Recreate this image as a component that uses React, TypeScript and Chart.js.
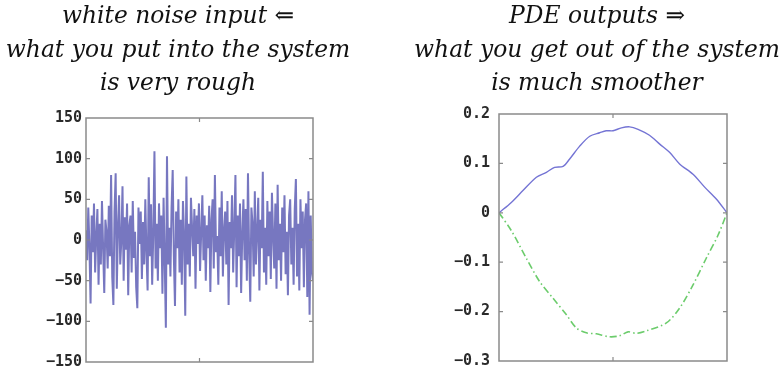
import React, { useEffect, useRef } from "react";
import { Chart, registerables } from "chart.js";

Chart.register(...registerables);

// ---------- data ----------
const leftTitle = ["white noise input ⇐", "what you put into the system", "is very rough"];
const rightTitle = ["PDE outputs ⇒", "what you get out of the system", "is much smoother"];

const leftYTicks = [-150, -100, -50, 0, 50, 100, 150];
const rightYTicks = [-0.3, -0.2, -0.1, 0, 0.1, 0.2];

const noiseValues = [
  12, -25, 40, -8, -78, 30, -15, 45, -40, 5, 38, -55, 20, -30, 48, -10, -65, 25, 10, -35,
  42, -20, 80, -45, -80, 35, 82, -60, 15, 55, -30, 0, 66, -50, 28, -12, 45, -68, 18, 30,
  -40, 48, -22, 10, -58, -84, 40, -5, 35, -48, 22, -30, 50, -15, -62, 77, -20, 44, -55, 8,
  109, -35, 20, -50, 45, -10, 30, -66, 52, -25, -108, 103, -30, 15, -45, 40, 86, -20, -81, 35,
  -10, 50, -40, 25, -55, 48, 5, -93, 78, -30, 20, -45, 52, 15, -20, 38, -60, 30, -5, 45,
  -38, 10, 55, -25, 30, -50, 18, -10, 42, -64, 25, 50, -35, 80, -15, 5, -55, 40, -20, 60,
  -45, 12, 35, -30, 48, -80, 22, -10, 55, -40, 15, 80, -58, 30, -20, 45, -65, 8, 50, -25,
  38, -50, 82, -15, -76, 40, 20, -45, 60, -30, 10, 52, -62, 25, -10, 84, -40, 15, -55, 48,
  -20, 35, -48, 58, 5, -35, 45, -60, 68, -25, 20, -50, 40, -15, 55, -42, 10, -68, 30, 50,
  -30, 15, -55, 38, 75, -45, 20, -62, 50, -10, 35, -58, 25, 45, -70, 60, -92, 30, -40, -50,
];

const blueX = [0, 0.054, 0.105, 0.164, 0.208, 0.244, 0.281, 0.31, 0.354, 0.398, 0.442, 0.47, 0.5, 0.537, 0.573, 0.61, 0.66, 0.705, 0.749, 0.792, 0.851, 0.902, 0.953, 1];
const blueY = [0, 0.021, 0.045, 0.072, 0.082, 0.092, 0.094, 0.109, 0.135, 0.155, 0.162, 0.166, 0.166, 0.172, 0.174, 0.169, 0.157, 0.139, 0.122, 0.099, 0.078, 0.052, 0.028, 0];

const greenX = [0, 0.054, 0.12, 0.178, 0.237, 0.295, 0.339, 0.383, 0.427, 0.485, 0.529, 0.566, 0.602, 0.646, 0.734, 0.792, 0.851, 0.909, 0.96, 1];
const greenY = [0, -0.036, -0.092, -0.139, -0.173, -0.206, -0.233, -0.243, -0.245, -0.251, -0.249, -0.241, -0.244, -0.239, -0.223, -0.193, -0.146, -0.092, -0.046, 0];

// ---------- plugins ----------
const framePlugin = {
  id: "frame",
  afterDraw(chart: any) {
    const { ctx, chartArea } = chart;
    const { left, right, top, bottom } = chartArea;
    ctx.save();
    ctx.strokeStyle = "#8a8a8a";
    ctx.lineWidth = 1.5;
    ctx.strokeRect(left, top, right - left, bottom - top);
    const ys = chart.scales.y;
    const xs = chart.scales.x;
    const t = 4;
    ctx.lineWidth = 1.2;
    ctx.beginPath();
    ys.ticks.forEach((tk: any) => {
      const py = ys.getPixelForValue(tk.value);
      if (py <= top + 1 || py >= bottom - 1) return;
      ctx.moveTo(left, py);
      ctx.lineTo(left + t, py);
      ctx.moveTo(right, py);
      ctx.lineTo(right - t, py);
    });
    xs.ticks.forEach((tk: any) => {
      const px = xs.getPixelForValue(tk.value);
      if (px <= left + 1 || px >= right - 1) return;
      ctx.moveTo(px, top);
      ctx.lineTo(px, top + t);
      ctx.moveTo(px, bottom);
      ctx.lineTo(px, bottom - t);
    });
    ctx.stroke();
    ctx.restore();
  },
};

const headingPlugin = {
  id: "heading",
  afterDraw(chart: any, _args: any, opts: any) {
    const { ctx } = chart;
    ctx.save();
    ctx.fillStyle = "#111";
    ctx.font = "italic 23.4px 'DejaVu Serif'";
    ctx.textAlign = "center";
    ctx.textBaseline = "middle";
    (opts.lines as string[]).forEach((line, i) => {
      ctx.fillText(line, opts.centerX, opts.firstY + i * opts.gap);
    });
    ctx.restore();
  },
};

function makeOptions(opts: {
  title: string[];
  titleX: number;
  yMin: number;
  yMax: number;
  yTicks: number[];
  xMin: number;
  xMax: number;
  xStep: number;
  padT: number;
  padR: number;
  padB: number;
  axisW: number;
  tickPad: number;
}) {
  return {
    responsive: false,
    animation: false as const,
    layout: { padding: { left: 0, right: opts.padR, top: opts.padT, bottom: opts.padB } },
    plugins: {
      legend: { display: false },
      tooltip: { enabled: false },
      title: { display: false },
      heading: { lines: opts.title, centerX: opts.titleX, firstY: 17, gap: 33.5 },
    },
    scales: {
      x: {
        type: "linear" as const,
        display: false,
        min: opts.xMin,
        max: opts.xMax,
        ticks: { stepSize: opts.xStep },
      },
      y: {
        type: "linear" as const,
        min: opts.yMin,
        max: opts.yMax,
        grid: { display: false, drawTicks: false },
        border: { display: false },
        afterFit(scale: any) {
          scale.width = opts.axisW;
          scale.paddingTop = 0;
          scale.paddingBottom = 0;
        },
        afterBuildTicks(scale: any) {
          scale.ticks = opts.yTicks.map((v) => ({ value: v }));
        },
        ticks: {
          padding: opts.tickPad,
          color: "#2a2a2a",
          font: { family: "'DejaVu Sans Mono'", size: 15, weight: "bold" as const },
          callback: (v: any) => {
            const n = Number(v);
            const s = Math.abs(n) < 1e-9 ? "0" : String(Math.round(n * 1000) / 1000);
            return s.replace("-", "−");
          },
        },
      },
    },
  };
}

function LeftChart() {
  const ref = useRef<HTMLCanvasElement>(null);
  useEffect(() => {
    const chart = new Chart(ref.current!, {
      type: "line",
      data: {
        datasets: [
          {
            data: noiseValues.map((v, i) => ({ x: i, y: v })),
            borderColor: "rgba(28,28,150,0.6)",
            borderWidth: 2,
            pointRadius: 0,
            tension: 0,
          },
        ],
      },
      options: makeOptions({
        title: leftTitle,
        titleX: 178,
        yMin: -150,
        yMax: 150,
        yTicks: leftYTicks,
        xMin: 0,
        xMax: noiseValues.length - 1,
        xStep: (noiseValues.length - 1) / 2,
        padT: 118,
        padR: 77,
        padB: 10,
        axisW: 86,
        tickPad: 4,
      }) as any,
      plugins: [framePlugin, headingPlugin],
    });
    return () => chart.destroy();
  }, []);
  return <canvas ref={ref} width={390} height={372} style={{ position: "absolute", left: 0, top: 0 }} />;
}

function RightChart() {
  const ref = useRef<HTMLCanvasElement>(null);
  useEffect(() => {
    const chart = new Chart(ref.current!, {
      type: "line",
      data: {
        datasets: [
          {
            data: blueX.map((x, i) => ({ x, y: blueY[i] })),
            borderColor: "#7474d4",
            borderWidth: 1.4,
            pointRadius: 0,
            tension: 0.3,
          },
          {
            data: greenX.map((x, i) => ({ x, y: greenY[i] })),
            borderColor: "#6ccc6c",
            borderWidth: 1.6,
            borderDash: [7, 3, 1.5, 3],
            pointRadius: 0,
            tension: 0.3,
          },
        ],
      },
      options: makeOptions({
        title: rightTitle,
        titleX: 207,
        yMin: -0.3,
        yMax: 0.2,
        yTicks: rightYTicks,
        xMin: 0,
        xMax: 1,
        xStep: 0.5,
        padT: 114,
        padR: 53,
        padB: 11,
        axisW: 109,
        tickPad: 9,
      }) as any,
      plugins: [framePlugin, headingPlugin],
    });
    return () => chart.destroy();
  }, []);
  return <canvas ref={ref} width={390} height={372} style={{ position: "absolute", left: 390, top: 0 }} />;
}

export default function App() {
  return (
    <div style={{ position: "absolute", left: 0, top: 0, width: 780, height: 372, background: "#fff" }}>
      <LeftChart />
      <RightChart />
    </div>
  );
}
